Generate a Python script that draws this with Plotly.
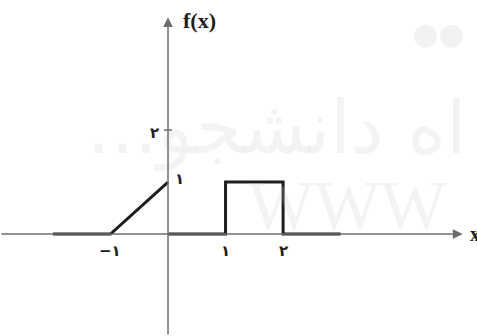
import plotly.graph_objects as go

# f(x): zero, ramp from -1 to 0, jump back, pulse of height 1 on [1, 2]
fx = [-2, -1, 0, None, 0, 1, 1, 2, 2, 3]
fy = [0, 0, 1, None, 0, 0, 1, 1, 0, 0]

x_ticks = [-1, 1, 2]
x_tick_text = ['−۱', '۱', '۲']
y_ticks = [1, 2]
y_tick_text = ['۱', '۲']

x_lim = [-2.92, 5.37]
y_lim = [-1.96, 4.5]
x_tip = 5.12
y_tip = 4.17

axis_col = '#6e6e6e'
ink = '#1e1e1e'
mark = 'rgba(200,200,200,0.22)'

fig = go.Figure()

# y = 2 tick mark on the vertical axis
fig.add_trace(go.Scatter(
    x=[-0.07, 0.07], y=[2, 2], mode='lines',
    line=dict(color=axis_col, width=1.5), hoverinfo='skip'
))

fig.add_trace(go.Scatter(
    x=fx, y=fy, mode='lines',
    line=dict(color=ink, width=3), hoverinfo='skip'
))

annotations = [
    # watermark
    dict(x=-1.45, y=2.05, xref='x', yref='y', text='...اه دانشجو', showarrow=False,
         xanchor='left', font=dict(family='DejaVu Sans', size=74, color=mark)),
    dict(x=1.35, y=0.55, xref='x', yref='y', text='WWW', showarrow=False,
         xanchor='left', font=dict(family='Liberation Serif', size=70, color=mark)),
    dict(x=4.2, y=3.85, xref='x', yref='y', text='●●', showarrow=False,
         xanchor='left', font=dict(family='DejaVu Sans', size=30, color=mark)),
    # axes with arrow heads
    dict(x=x_tip, y=0, ax=x_lim[0], ay=0, xref='x', yref='y', axref='x', ayref='y',
         showarrow=True, arrowhead=2, arrowsize=1.3, arrowwidth=1.5,
         arrowcolor=axis_col, text=''),
    dict(x=0, y=y_tip, ax=0, ay=y_lim[0], xref='x', yref='y', axref='x', ayref='y',
         showarrow=True, arrowhead=2, arrowsize=1.3, arrowwidth=1.5,
         arrowcolor=axis_col, text=''),
    dict(x=0.22, y=4.1, xref='x', yref='y', text='<b>f(x)</b>', showarrow=False,
         xanchor='left', font=dict(family='Liberation Serif', size=22, color=ink)),
    dict(x=5.22, y=0, xref='x', yref='y', text='<b>x</b>', showarrow=False,
         xanchor='left', font=dict(family='Liberation Serif', size=20, color=ink)),
]

for v, t in zip(x_ticks, x_tick_text):
    annotations.append(dict(x=v, y=-0.33, xref='x', yref='y', text='<b>' + t + '</b>',
                            showarrow=False,
                            font=dict(family='DejaVu Sans', size=15, color=ink)))

annotations.append(dict(x=0.08, y=y_ticks[0] + 0.05, xref='x', yref='y',
                        text='<b>' + y_tick_text[0] + '</b>', xanchor='left',
                        showarrow=False, font=dict(family='DejaVu Sans', size=15, color=ink)))
annotations.append(dict(x=-0.12, y=y_ticks[1] - 0.05, xref='x', yref='y',
                        text='<b>' + y_tick_text[1] + '</b>', xanchor='right',
                        showarrow=False, font=dict(family='DejaVu Sans', size=15, color=ink)))

fig.update_layout(
    width=477, height=336,
    margin=dict(l=0, r=0, t=0, b=0),
    paper_bgcolor='white', plot_bgcolor='white',
    showlegend=False,
    xaxis=dict(range=x_lim, visible=False, fixedrange=True),
    yaxis=dict(range=y_lim, visible=False, fixedrange=True),
    annotations=annotations,
)

# the page body has a default 8px margin, drop it so the figure fills the window
fig.write_html('out.html', config={'displayModeBar': False},
               post_script="document.body.style.margin='0';")
